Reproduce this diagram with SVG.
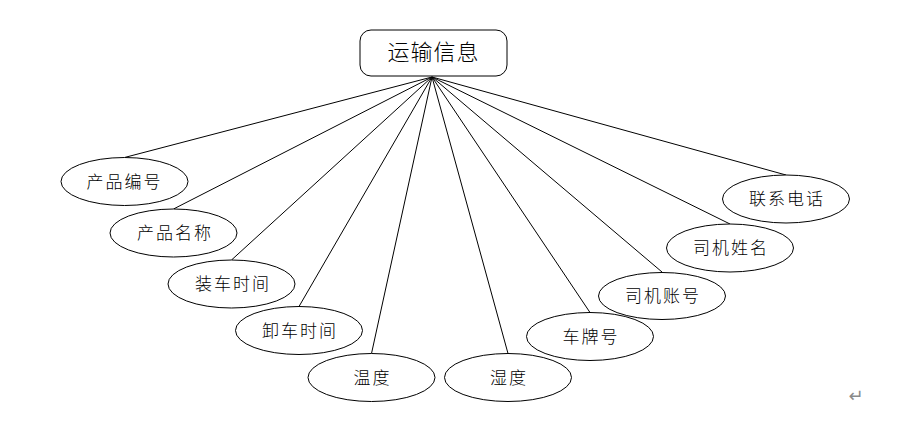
<svg xmlns="http://www.w3.org/2000/svg" width="897" height="422" viewBox="0 0 897 422">
<style>
  .shape { fill: #ffffff; stroke: #000000; stroke-width: 1; }
  .lbl { font-family: "Noto Sans CJK SC", "Liberation Sans", sans-serif; font-size: 17px; font-weight: 300; letter-spacing: 2px; fill: #000000; text-anchor: middle; }
  .title { font-size: 22px; letter-spacing: 1px; }
  .conn line { stroke: #000000; stroke-width: 1; }
</style>
<rect width="897" height="422" fill="#ffffff"/>
<g id="connectors" class="conn">
  <line x1="432" y1="77" x2="124.5" y2="157.5"/>
  <line x1="432" y1="77" x2="173.5" y2="209"/>
  <line x1="432" y1="77" x2="231.5" y2="260"/>
  <line x1="432" y1="77" x2="299" y2="306.5"/>
  <line x1="432" y1="77" x2="371.5" y2="353.5"/>
  <line x1="432" y1="77" x2="508" y2="353.5"/>
  <line x1="432" y1="77" x2="590" y2="312.5"/>
  <line x1="432" y1="77" x2="662" y2="272"/>
  <line x1="432" y1="77" x2="730" y2="224"/>
  <line x1="432" y1="77" x2="786" y2="175"/>
</g>
<g id="n-main">
  <rect class="shape" x="360" y="30" width="147" height="46" rx="11" ry="11"/>
  <text class="lbl title" x="433.5" y="60">运输信息</text>
</g>
<g id="n1">
  <ellipse class="shape" cx="124.5" cy="181.5" rx="63.5" ry="24"/>
  <text class="lbl" x="124.5" y="187.5">产品编号</text>
</g>
<g id="n2">
  <ellipse class="shape" cx="173.5" cy="233" rx="63.5" ry="24"/>
  <text class="lbl" x="175" y="239">产品名称</text>
</g>
<g id="n3">
  <ellipse class="shape" cx="231.5" cy="284" rx="63.5" ry="24"/>
  <text class="lbl" x="233" y="290">装车时间</text>
</g>
<g id="n4">
  <ellipse class="shape" cx="299" cy="330.5" rx="63.5" ry="24"/>
  <text class="lbl" x="300" y="336.5">卸车时间</text>
</g>
<g id="n5">
  <ellipse class="shape" cx="371.5" cy="377.5" rx="63.5" ry="24"/>
  <text class="lbl" x="372.5" y="383.5">温度</text>
</g>
<g id="n6">
  <ellipse class="shape" cx="508" cy="377.5" rx="63.5" ry="24"/>
  <text class="lbl" x="509" y="383.5">湿度</text>
</g>
<g id="n7">
  <ellipse class="shape" cx="590" cy="336.5" rx="63.5" ry="24"/>
  <text class="lbl" x="591" y="342.5">车牌号</text>
</g>
<g id="n8">
  <ellipse class="shape" cx="662" cy="296" rx="63.5" ry="23.5"/>
  <text class="lbl" x="663" y="302">司机账号</text>
</g>
<g id="n9">
  <ellipse class="shape" cx="730" cy="248" rx="63.5" ry="24"/>
  <text class="lbl" x="731" y="254">司机姓名</text>
</g>
<g id="n10">
  <ellipse class="shape" cx="786" cy="199" rx="63.5" ry="24"/>
  <text class="lbl" x="787" y="205">联系电话</text>
</g>
<text x="856" y="402" font-family="DejaVu Sans, sans-serif" font-size="18" fill="#8a8a8a" text-anchor="middle">↵</text>
</svg>
